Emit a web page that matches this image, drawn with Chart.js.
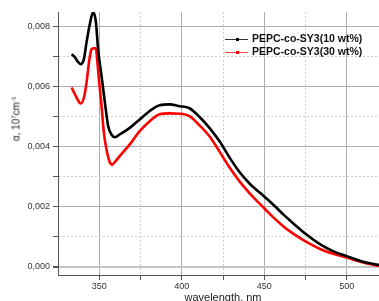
<!DOCTYPE html>
<html>
<head>
<meta charset="utf-8">
<script src="https://cdn.jsdelivr.net/npm/chart.js@4"></script>
<style>
  html, body { margin:0; padding:0; background:#fff; overflow:hidden; }
  #wrap { position:relative; width:389px; height:308px; }
  .leg { position:absolute; left:225px; font:bold 10.5px "Liberation Sans", Arial, sans-serif; color:#111; white-space:nowrap; }
  .leg i { position:absolute; left:0; top:0; width:23px; height:1px; }
  .leg b { position:absolute; left:11px; top:-1px; width:3px; height:3px; }
  .leg span { position:absolute; left:27px; top:-7px; }
  #ytitle { position:absolute; left:16px; top:119px; transform:translate(-50%,-50%) rotate(-90deg);
            font:10px "Liberation Sans", Arial, sans-serif; color:#222; white-space:nowrap; }
  #ytitle sup { font-size:6px; vertical-align:4px; }
</style>
</head>
<body>
<div id="wrap">
  <canvas id="chart" width="389" height="308"></canvas>
  <div class="leg" style="top:39px"><i style="background:#333"></i><b style="background:#000"></b><span>PEPC-co-SY3(10 wt%)</span></div>
  <div class="leg" style="top:52px"><i style="background:#f44"></i><b style="background:#f00"></b><span>PEPC-co-SY3(30 wt%)</span></div>
  <div id="ytitle">α, 10<sup>7</sup>cm<sup>-1</sup></div>
</div>
<script>
// wavelength (nm) / absorption
const wl10 = [333.3, 335.3, 337, 338.7, 340.7, 342.3, 344.3, 346.3, 348, 349.3, 351.4, 353.4, 355.4, 357.4, 359.4,
  362.4, 368.5, 374.5, 380.6, 386.6, 392.6, 398.7, 404.7, 410.8, 416.8, 422.8, 428.9, 434.9, 440.9, 444,
  450, 456, 462, 468, 475, 484.2, 492.3, 500, 510, 519, 525];
const a10 = [0.00707, 0.00696, 0.00682, 0.00673, 0.0069, 0.00746, 0.00807, 0.00846, 0.00812, 0.00723, 0.00634,
  0.00547, 0.00468, 0.0044, 0.00431, 0.0044, 0.00462, 0.0049, 0.00518, 0.00537, 0.0054, 0.00534, 0.00527,
  0.00498, 0.00462, 0.00418, 0.00364, 0.00316, 0.00278, 0.00262, 0.00234, 0.00204, 0.00172, 0.00143,
  0.0011, 0.00074, 0.00051, 0.00036, 0.00017, 0.00007, 0.00003];

const wl30 = [333.3, 334.3, 336.3, 338.7, 340.7, 342.3, 343.9, 345.3, 346.3, 348, 348.7, 350, 351.4, 352.8, 354.4,
  356.4, 358, 359.4, 362.4, 368.5, 374.5, 380.6, 386.6, 392.6, 398.7, 404.7, 410.8, 416.8, 422.8, 428.9,
  434.9, 440.9, 444, 450, 456, 462, 468, 475, 484.2, 492.3, 500, 510, 519, 525];
const a30 = [0.00596, 0.00584, 0.00562, 0.00543, 0.00562, 0.00612, 0.00684, 0.00723, 0.00726, 0.00726, 0.0069,
  0.00612, 0.00534, 0.00446, 0.0039, 0.00348, 0.0034, 0.00348, 0.00368, 0.00407, 0.00451, 0.00484, 0.00507,
  0.0051, 0.00509, 0.00501, 0.0047, 0.00434, 0.00384, 0.00331, 0.00285, 0.00246, 0.00228, 0.00195,
  0.00162, 0.00133, 0.00109, 0.00085, 0.00059, 0.00043, 0.00031, 0.00015, 0.00004, 0.00001];

const xTicks = [350, 400, 450, 500];
const yTicks = [0, 0.002, 0.004, 0.006, 0.008];

const pts = (xs, ys) => xs.map((x, i) => ({x: x, y: ys[i]}));

function yKind(v){
  const k = v * 1000;
  if (Math.abs(k - Math.round(k)) > 1e-6) return 'none';
  const r = Math.round(k);
  if (r === 0) return 'zero';
  return r % 2 === 0 ? 'major' : 'minor';
}
function xKind(v){
  if (v % 25 !== 0 || v <= 325) return 'none';
  return v % 50 === 0 ? 'major' : 'minor';
}
const gridCol = {none:'rgba(0,0,0,0)', zero:'#c4c4c4', major:'#adadad', minor:'#cfcfcf'};

new Chart(document.getElementById('chart'), {
  type: 'scatter',
  data: {
    datasets: [
      {label:'PEPC-co-SY3(10 wt%)', data: pts(wl10, a10), showLine:true, borderColor:'#000', borderWidth:2.6,
       pointRadius:0, cubicInterpolationMode:'monotone'},
      {label:'PEPC-co-SY3(30 wt%)', data: pts(wl30, a30), showLine:true, borderColor:'#ff0000', borderWidth:2.6,
       pointRadius:0, cubicInterpolationMode:'monotone'}
    ]
  },
  options: {
    responsive:false, devicePixelRatio:1, animation:false,
    layout:{padding:{top:12, left:0, right:0, bottom:0}},
    plugins:{legend:{display:false}, tooltip:{enabled:false}},
    scales:{
      x:{
        type:'linear', min:325, max:525,
        afterFit: s => { s.height = 33; },
        ticks:{stepSize:25, padding:1, color:'#333', font:{family:'Liberation Sans', size:9},
               callback: v => xTicks.includes(v) ? String(v) : ''},
        grid:{color: c => gridCol[xKind(c.tick ? c.tick.value : 0)], lineWidth:1,
              tickLength:5, tickColor: c => xKind(c.tick ? c.tick.value : 0) === 'none' ? 'rgba(0,0,0,0)' : '#555'},
        border:{color:'#555', width:1, dash: c => (c.tick && xKind(c.tick.value) === 'minor') ? [2,2] : []},
        title:{display:true, text:'wavelength, nm', color:'#222', padding:{top:0, bottom:3},
               font:{family:'Liberation Sans', size:11}}
      },
      y:{
        min:-0.000267, max:0.008467,
        afterFit: s => { s.width = 58; },
        ticks:{stepSize:0.001, includeBounds:false, padding:3, color:'#333', font:{family:'Liberation Sans', size:9},
               callback: v => yTicks.some(t => Math.abs(t - v) < 1e-9) ? v.toFixed(3).replace('.', ',') : ''},
        grid:{color: c => gridCol[yKind(c.tick ? c.tick.value : 1e-5)],
              lineWidth: c => (c.tick && yKind(c.tick.value) === 'zero') ? 2 : 1,
              tickLength:5, tickColor: c => yKind(c.tick ? c.tick.value : 1e-5) === 'none' ? 'rgba(0,0,0,0)' : '#555'},
        border:{color:'#555', width:1, dash: c => (c.tick && yKind(c.tick.value) === 'minor') ? [2,2] : []}
      }
    }
  }
});
</script>
</body>
</html>
